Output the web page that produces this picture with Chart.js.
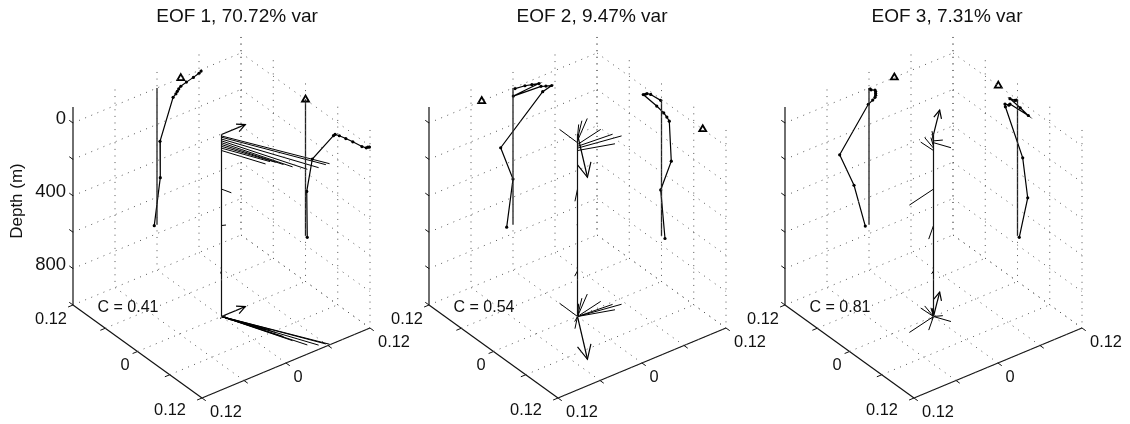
<!DOCTYPE html>
<html>
<head>
<meta charset="utf-8">
<title>EOF</title>
<style>
  html, body { margin: 0; padding: 0; background: #fff; }
  canvas { display: block; }
</style>
<script src="https://cdn.jsdelivr.net/npm/chart.js@4"></script>
</head>
<body>
<canvas id="eofChart" width="1130" height="424"></canvas>
<script>
// depth levels of the profiles (m)
const depths = [8, 15, 25, 35, 45, 55, 65, 75, 88, 300, 500, 750];

// EOF amplitudes at each level
const eof1U = [0.119, 0.116, 0.113, 0.105, 0.088, 0.075, 0.063, 0.055, 0.052, 0.0127, 0.0023, 0.0033];
const eof1V = [0.063, 0.060, 0.052, 0.042, 0.034, 0.031, 0.029, 0.027, 0.023, 0.0043, 0.0047, -0.0039];
const eof2U = [-0.0015, -0.0201, -0.027, -0.03, -0.0339, -0.0089, 0.0041, 0.0100, 0.0145, 0.0182, -0.0015, 0.0065];
const eof2V = [0.0029, 0.0171, 0.027, 0.037, 0.0004, 0.04, 0.047, 0.0553, 0.0424, -0.0176, 0, -0.009];
const eof3U = [-0.002, -0.0047, -0.014, 0.005, 0.0201, -0.014, -0.016, -0.0233, -0.0225, 0.0097, 0.019, 0.0033];
const eof3V = [0.0014, 0.003, 0.0086, 0.0095, 0.0095, 0.0095, 0.0086, 0.0053, -0.001, -0.0419, -0.0214, -0.0053];

// surface vector (arrow + triangles)
const windU = [0, 0.0767, -0.0357];
const windV = [0.034, -0.0447, 0.0362];

const titles = ['EOF 1, 70.72% var', 'EOF 2, 9.47% var', 'EOF 3, 7.31% var'];
const corrLabels = ['C = 0.41', 'C = 0.54', 'C = 0.81'];

// axes
const depthTicks = [0, 200, 400, 600, 800, 1000];
const depthLabels = ['0', '400', '800'];
const depthLabelValues = [0, 400, 800];
const horizTicks = [-0.12, -0.06, 0, 0.06, 0.12];
const horizLabels = ['0.12', '0', '0.12'];
const depthTop = -88;
const depthBottom = 1000;
const stemBottomLevel = 750;

// each panel is moved right by this much
const panelLeft = [73, 429, 785];
const titleCenter = [237, 592, 947];

// oblique view of the box, one x,y pair for a whole axis length
function project(p, u, v, depth) {
  const a = (u + 0.12) / 0.24;
  const b = (v + 0.12) / 0.24;
  return {
    x: panelLeft[p] + 129 * a + 168 * b,
    y: 123 + 0.182 * depth + 93 * a - 70 * b
  };
}

const datasets = [];

function addLine(points, color, width, dash) {
  datasets.push({
    data: points,
    showLine: true,
    borderColor: color,
    borderWidth: width,
    borderDash: dash || [],
    pointRadius: 0,
    tension: 0
  });
}

function addDots(points) {
  datasets.push({
    data: points,
    showLine: false,
    pointRadius: 1.6,
    pointBackgroundColor: '#000',
    pointBorderColor: '#000',
    pointBorderWidth: 0
  });
}

function addTriangle(point) {
  datasets.push({
    data: [point],
    showLine: false,
    pointStyle: 'triangle',
    pointRadius: 4,
    pointBackgroundColor: '#fff',
    pointBorderColor: '#000',
    pointBorderWidth: 1.8
  });
}

// dotted grid on both walls and floor
function addGrid(p) {
  const dots = [1, 5.6];
  const color = '#555';
  const lo = -0.12, hi = 0.12;
  depthTicks.forEach(d => {
    addLine([project(p, lo, lo, d), project(p, lo, hi, d)], color, 1, dots);
    addLine([project(p, lo, hi, d), project(p, hi, hi, d)], color, 1, dots);
  });
  horizTicks.slice(1).forEach(t => {
    addLine([project(p, lo, t, depthTop), project(p, lo, t, depthBottom)], color, 1, dots);
  });
  horizTicks.forEach(t => {
    if (t === lo) return;
    addLine([project(p, t, hi, depthTop), project(p, t, hi, depthBottom)], color, 1, dots);
  });
  addLine([project(p, lo, hi, depthTop), project(p, lo, hi, depthBottom)], color, 1, dots);
  horizTicks.slice(1).forEach(t => {
    addLine([project(p, t, lo, depthBottom), project(p, t, hi, depthBottom)], color, 1, dots);
    addLine([project(p, lo, t, depthBottom), project(p, hi, t, depthBottom)], color, 1, dots);
  });
}

// solid axes with their short ticks
function addAxes(p) {
  const lo = -0.12, hi = 0.12, tick = 0.007;
  addLine([project(p, lo, lo, depthTop), project(p, lo, lo, depthBottom)], '#111', 1.2);
  addLine([project(p, lo, lo, depthBottom), project(p, hi, lo, depthBottom)], '#111', 1.2);
  addLine([project(p, hi, lo, depthBottom), project(p, hi, hi, depthBottom)], '#111', 1.2);
  depthTicks.forEach(d => {
    addLine([project(p, lo - tick, lo, d), project(p, lo, lo, d)], '#111', 1);
  });
  horizTicks.forEach(t => {
    addLine([project(p, t, lo - tick, depthBottom), project(p, t, lo, depthBottom)], '#111', 1);
    addLine([project(p, hi, t, depthBottom), project(p, hi + tick, t, depthBottom)], '#111', 1);
  });
}

// arrow with two barbs at the tip
function addArrow(p, u, v, depth) {
  const base = project(p, 0, 0, depth);
  const tip = project(p, u, v, depth);
  const dx = base.x - tip.x, dy = base.y - tip.y;
  const barb = 0.36, cos = Math.cos(0.45), sin = Math.sin(0.45);
  addLine([base, tip], '#000', 1.2);
  addLine([
    { x: tip.x + barb * (dx * cos - dy * sin), y: tip.y + barb * (dx * sin + dy * cos) },
    tip,
    { x: tip.x + barb * (dx * cos + dy * sin), y: tip.y + barb * (dy * cos - dx * sin) }
  ], '#000', 1.2);
}

function addPanel(p, us, vs) {
  const lo = -0.12, hi = 0.12;
  addGrid(p);
  addAxes(p);

  // zero lines on the walls
  addLine([project(p, lo, 0, 0), project(p, lo, 0, stemBottomLevel)], '#222', 1.3);
  addLine([project(p, 0, hi, 0), project(p, 0, hi, stemBottomLevel)], '#222', 1.3);

  // profiles on the walls
  const left = depths.map((d, i) => project(p, lo, vs[i], d));
  const right = depths.map((d, i) => project(p, us[i], hi, d));
  addLine(left, '#000', 1.2);
  addDots(left);
  addLine(right, '#000', 1.2);
  addDots(right);

  // central stem with one stick per level
  addLine([project(p, 0, 0, 0), project(p, 0, 0, depthBottom)], '#111', 1.2);
  depths.forEach((d, i) => {
    addLine([project(p, 0, 0, d), project(p, us[i], vs[i], d)], '#000', 1);
    addLine([project(p, 0, 0, depthBottom), project(p, us[i], vs[i], depthBottom)], '#000', 1);
  });

  addArrow(p, windU[p], windV[p], 0);
  addArrow(p, windU[p], windV[p], depthBottom);
  addTriangle(project(p, lo, windV[p], 0));
  addTriangle(project(p, windU[p], hi, 0));
}

addPanel(0, eof1U, eof1V);
addPanel(1, eof2U, eof2V);
addPanel(2, eof3U, eof3V);

// titles, tick labels and the C values go on as text
const textPlugin = {
  id: 'panelText',
  afterDraw(chart) {
    const ctx = chart.ctx;
    const sx = chart.scales.x, sy = chart.scales.y;
    const put = (text, x, y, size, align) => {
      ctx.font = size + 'px "Liberation Sans"';
      ctx.textAlign = align || 'center';
      ctx.textBaseline = 'middle';
      ctx.fillStyle = '#111';
      ctx.fillText(text, sx.getPixelForValue(x), sy.getPixelForValue(y));
    };
    ctx.save();
    panelLeft.forEach((x0, p) => {
      const shift = x0 - panelLeft[0];
      put(titles[p], titleCenter[p], 17, 19);
      put(corrLabels[p], 128 + shift, 308, 16);
      put(horizLabels[0], 51 + shift, 319, 16.4);
      put(horizLabels[1], 125 + shift, 365, 16.4);
      put(horizLabels[2], 170 + shift, 410, 16.4);
      put(horizLabels[0], 226 + shift, 412, 16.4);
      put(horizLabels[1], 298 + shift, 377, 16.4);
      put(horizLabels[2], 394 + shift, 342, 16.4);
    });
    depthLabels.forEach((t, i) => {
      put(t, 66, 119 + 0.182 * depthLabelValues[i], 18.5, 'right');
    });
    ctx.translate(sx.getPixelForValue(17), sy.getPixelForValue(201));
    ctx.rotate(-Math.PI / 2);
    ctx.font = '17px "Liberation Sans"';
    ctx.textAlign = 'center';
    ctx.textBaseline = 'middle';
    ctx.fillStyle = '#111';
    ctx.fillText('Depth (m)', 0, 0);
    ctx.restore();
  }
};

new Chart(document.getElementById('eofChart'), {
  type: 'scatter',
  data: { datasets: datasets },
  plugins: [textPlugin],
  options: {
    responsive: false,
    animation: false,
    layout: { padding: 0, autoPadding: false },
    plugins: { legend: { display: false }, tooltip: { enabled: false }, title: { display: false } },
    scales: {
      x: { type: 'linear', min: 0, max: 1130, display: false },
      y: { type: 'linear', min: 0, max: 424, reverse: true, display: false }
    }
  }
});
</script>
</body>
</html>
